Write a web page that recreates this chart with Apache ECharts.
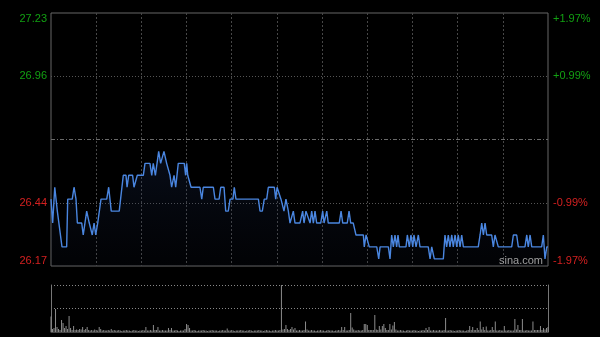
<!DOCTYPE html>
<html><head><meta charset="utf-8">
<script src="https://cdn.jsdelivr.net/npm/echarts@6/dist/echarts.min.js"></script>
<style>html,body{margin:0;padding:0;background:#000;}#c{width:600px;height:337px;}</style>
</head><body><div id="c"></div>
<script>
// ---- data ----
const prevClose = 26.70;
const yMin = 26.17, yMax = 27.23, yStep = 0.265;
const leftTickLabels = ['26.17', '26.44', '', '26.96', '27.23'];
const rightTickLabels = ['-1.97%', '-0.99%', '', '+0.99%', '+1.97%'];
const totalMinutes = 330;

// minutes since open (trading minutes) and price
const priceMinutes = [0,1.1,2.5,4.2,5.1,7.3,10.4,11.1,14.1,15.3,16.6,17.5,20.4,21.4,22.4,23.7,25.4,26.4,27.4,28.6,29.7,31,33.2,37,38.3,40,45.3,48,49.8,50.5,51.6,54.2,55.1,56.4,57.3,61.3,62.4,65.7,66.9,67.9,69.3,71.5,72.8,75,76.8,79,80.1,81.7,82.8,84.5,88.5,89.4,90.1,90.8,91.6,93,98.9,100.1,101.1,107.8,108.9,111.6,112.7,114.9,116,117.7,118.9,120.8,121.7,122.8,137.7,138.8,140.3,141.6,143.2,144.3,148.3,149.2,150.1,151.4,152.7,154.7,156,157.6,158.7,160.9,162,165.3,167.1,168,169.3,170.5,172,173.1,174.2,175.3,176.4,179.1,180.4,181.3,183.1,184.1,191.4,192.6,193.7,196.7,197.9,199,200.7,202.5,207.4,208,209.2,210.3,211.3,216.3,217.6,218.5,224,225.1,226.2,227.3,228.4,229.5,230.4,231.3,235.7,236.6,237.9,239,240.2,241,242.4,243.9,245,250.5,251.7,252.8,254.5,260.5,261.6,262.7,263.8,264.9,266.1,267.1,268.3,269.4,270.4,271.6,272.7,273.8,283.7,284.9,286,287.1,288.2,289.3,292.6,293.7,294.8,295.9,297,305.9,307,309.2,310.3,314.7,315.9,316.9,318.1,319.2,325.8,326.9,328,329.2,330];
const prices = [26.45,26.35,26.50,26.40,26.40,26.25,26.25,26.45,26.45,26.50,26.45,26.35,26.35,26.30,26.30,26.40,26.35,26.35,26.30,26.35,26.30,26.35,26.45,26.45,26.50,26.40,26.40,26.55,26.55,26.50,26.55,26.55,26.50,26.50,26.55,26.55,26.60,26.60,26.55,26.60,26.55,26.65,26.60,26.65,26.60,26.55,26.50,26.55,26.50,26.60,26.60,26.55,26.60,26.55,26.55,26.50,26.50,26.45,26.50,26.50,26.45,26.45,26.50,26.50,26.40,26.40,26.45,26.45,26.50,26.45,26.45,26.40,26.40,26.45,26.45,26.50,26.50,26.45,26.50,26.50,26.45,26.40,26.45,26.40,26.35,26.40,26.35,26.35,26.40,26.35,26.40,26.40,26.35,26.40,26.35,26.40,26.35,26.35,26.40,26.35,26.40,26.35,26.35,26.40,26.35,26.35,26.40,26.35,26.35,26.30,26.30,26.25,26.30,26.30,26.25,26.25,26.20,26.25,26.25,26.20,26.30,26.25,26.30,26.25,26.30,26.25,26.25,26.30,26.25,26.30,26.25,26.30,26.25,26.30,26.25,26.25,26.20,26.25,26.20,26.20,26.30,26.25,26.30,26.25,26.30,26.25,26.30,26.25,26.30,26.25,26.30,26.25,26.25,26.30,26.35,26.30,26.35,26.30,26.30,26.25,26.30,26.30,26.25,26.25,26.30,26.30,26.25,26.25,26.30,26.25,26.30,26.25,26.25,26.30,26.20,26.25,26.25];

// per-minute volume (relative units), minute 0..330
const volumes = [
31,6,8,46,10,6,4,24,18,8,
12,6,32,8,4,12,4,5,4,6,
5,10,4,6,10,4,3,4,3,5,
4,3,10,6,3,4,3,3,4,3,
6,3,4,3,3,4,3,2,3,3,
4,3,3,2,3,4,3,3,2,3,
3,4,3,10,3,3,4,3,14,4,
4,10,3,3,4,3,3,3,8,4,
8,3,3,4,3,2,3,3,3,6,
16,14,8,3,3,4,3,2,3,3,
3,4,3,3,2,3,3,4,3,3,
3,2,3,3,4,3,3,7,3,3,
4,3,2,3,3,3,4,3,3,2,
3,3,4,3,2,3,3,3,4,3,
3,2,3,4,3,3,2,3,3,4,
3,3,4,94,5,6,14,6,4,6,
10,5,8,3,3,4,3,3,4,21,
5,3,3,4,3,3,2,3,3,4,
3,3,2,3,4,3,3,3,2,3,
3,4,3,10,4,10,3,3,4,38,
9,5,3,3,4,3,3,4,16,16,
14,4,4,4,4,34,5,4,12,5,
12,16,8,4,4,16,5,13,20,5,
3,3,4,3,3,2,3,4,3,3,
3,4,3,3,2,3,3,4,3,8,
4,10,3,3,4,3,3,3,4,3,
3,4,28,3,3,4,3,3,2,3,
3,4,3,3,3,2,3,4,12,4,
10,4,4,8,4,21,5,10,4,11,
3,3,4,10,4,21,3,3,4,3,
3,12,3,3,4,3,3,3,26,5,
14,4,4,26,3,3,4,3,3,3,
21,4,4,4,4,12,4,8,5,8,
10];
const volMax = 94;

// ---- chart ----
const GREEN = '#12a012', RED = '#d42020';
const base = yMin;
const priceData = priceMinutes.map((m, i) => [m, +(prices[i] - base).toFixed(4)]);
const volData = volumes.map((v, i) => [i, v]);
const tickIdx = v => Math.round(Number(v) / yStep);
const labelColor = v => (Number(v) + base > prevClose + 1e-6 ? GREEN : RED);
const font = 'Liberation Sans, Arial, sans-serif';

const chart = echarts.init(document.getElementById('c'), null, {renderer: 'canvas'});
chart.setOption({
  backgroundColor: '#000',
  animation: false,
  grid: [
    {left: 51, top: 13, width: 497, height: 253, show: true, borderColor: '#666', borderWidth: 1, backgroundColor: 'transparent'},
    {left: 51, top: 285, width: 497, height: 47}
  ],
  xAxis: [
    {gridIndex: 0, type: 'value', min: 0, max: totalMinutes, interval: 30,
     axisLine: {show: false}, axisTick: {show: false}, axisLabel: {show: false},
     splitLine: {show: true, showMinLine: false, showMaxLine: false, lineStyle: {color: '#474747', type: [2, 2], width: 1}}},
    {gridIndex: 1, type: 'value', min: 0, max: totalMinutes,
     axisLine: {show: true, lineStyle: {color: '#444'}}, axisTick: {show: false}, axisLabel: {show: false},
     splitLine: {show: false}}
  ],
  yAxis: [
    {gridIndex: 0, type: 'value', min: 0, max: +(yMax - yMin).toFixed(4), interval: yStep, position: 'left',
     axisLine: {show: false}, axisTick: {show: false},
     axisLabel: {show: true, margin: 4, fontSize: 11, fontFamily: font,
       formatter: v => leftTickLabels[tickIdx(v)] || '',
       color: v => labelColor(v),
       verticalAlignMinLabel: 'bottom', verticalAlignMaxLabel: 'top'},
     splitLine: {show: true, showMinLine: false, showMaxLine: false,
       lineStyle: {color: ['#555', 'transparent', '#555'], type: [1, 2], width: 1}}},
    {gridIndex: 0, type: 'value', min: 0, max: +(yMax - yMin).toFixed(4), interval: yStep, position: 'right',
     axisLine: {show: false}, axisTick: {show: false},
     axisLabel: {show: true, margin: 5, fontSize: 11, fontFamily: font,
       formatter: v => rightTickLabels[tickIdx(v)] || '',
       color: v => labelColor(v),
       verticalAlignMinLabel: 'bottom', verticalAlignMaxLabel: 'top'},
     splitLine: {show: false}},
    {gridIndex: 1, type: 'value', min: 0, max: volMax, interval: volMax / 2, position: 'left',
     axisLine: {show: true, lineStyle: {color: '#777'}}, axisTick: {show: false}, axisLabel: {show: false},
     splitLine: {show: true, showMinLine: false, lineStyle: {color: '#888', type: [1, 2], width: 1}}},
    {gridIndex: 1, type: 'value', min: 0, max: volMax, position: 'right',
     axisLine: {show: true, lineStyle: {color: '#777'}}, axisTick: {show: false}, axisLabel: {show: false},
     splitLine: {show: false}}
  ],
  series: [
    {type: 'line', xAxisIndex: 0, yAxisIndex: 0, data: priceData, showSymbol: false, symbol: 'none',
     lineStyle: {color: '#4a86e0', width: 1.4},
     areaStyle: {origin: 'start', color: new echarts.graphic.LinearGradient(0, 0, 0, 1, [
       {offset: 0, color: 'rgba(30,50,95,0.38)'}, {offset: 1, color: 'rgba(20,30,60,0.12)'}])},
     markLine: {silent: true, symbol: 'none', label: {show: false},
       lineStyle: {color: '#6a6a6a', type: [4, 2, 1, 2], width: 1},
       data: [{yAxis: +(prevClose - base).toFixed(4)}]},
     z: 3},
    {type: 'bar', xAxisIndex: 1, yAxisIndex: 2, data: volData, barWidth: 1,
     itemStyle: {color: '#8c8c8c'}, z: 2}
  ],
  graphic: [
    {type: 'text', left: 499, top: 255, z: 10,
     style: {text: 'sina.com', fill: '#a0a0a0', font: '11px ' + font}}
  ]
});
</script>
</body></html>
